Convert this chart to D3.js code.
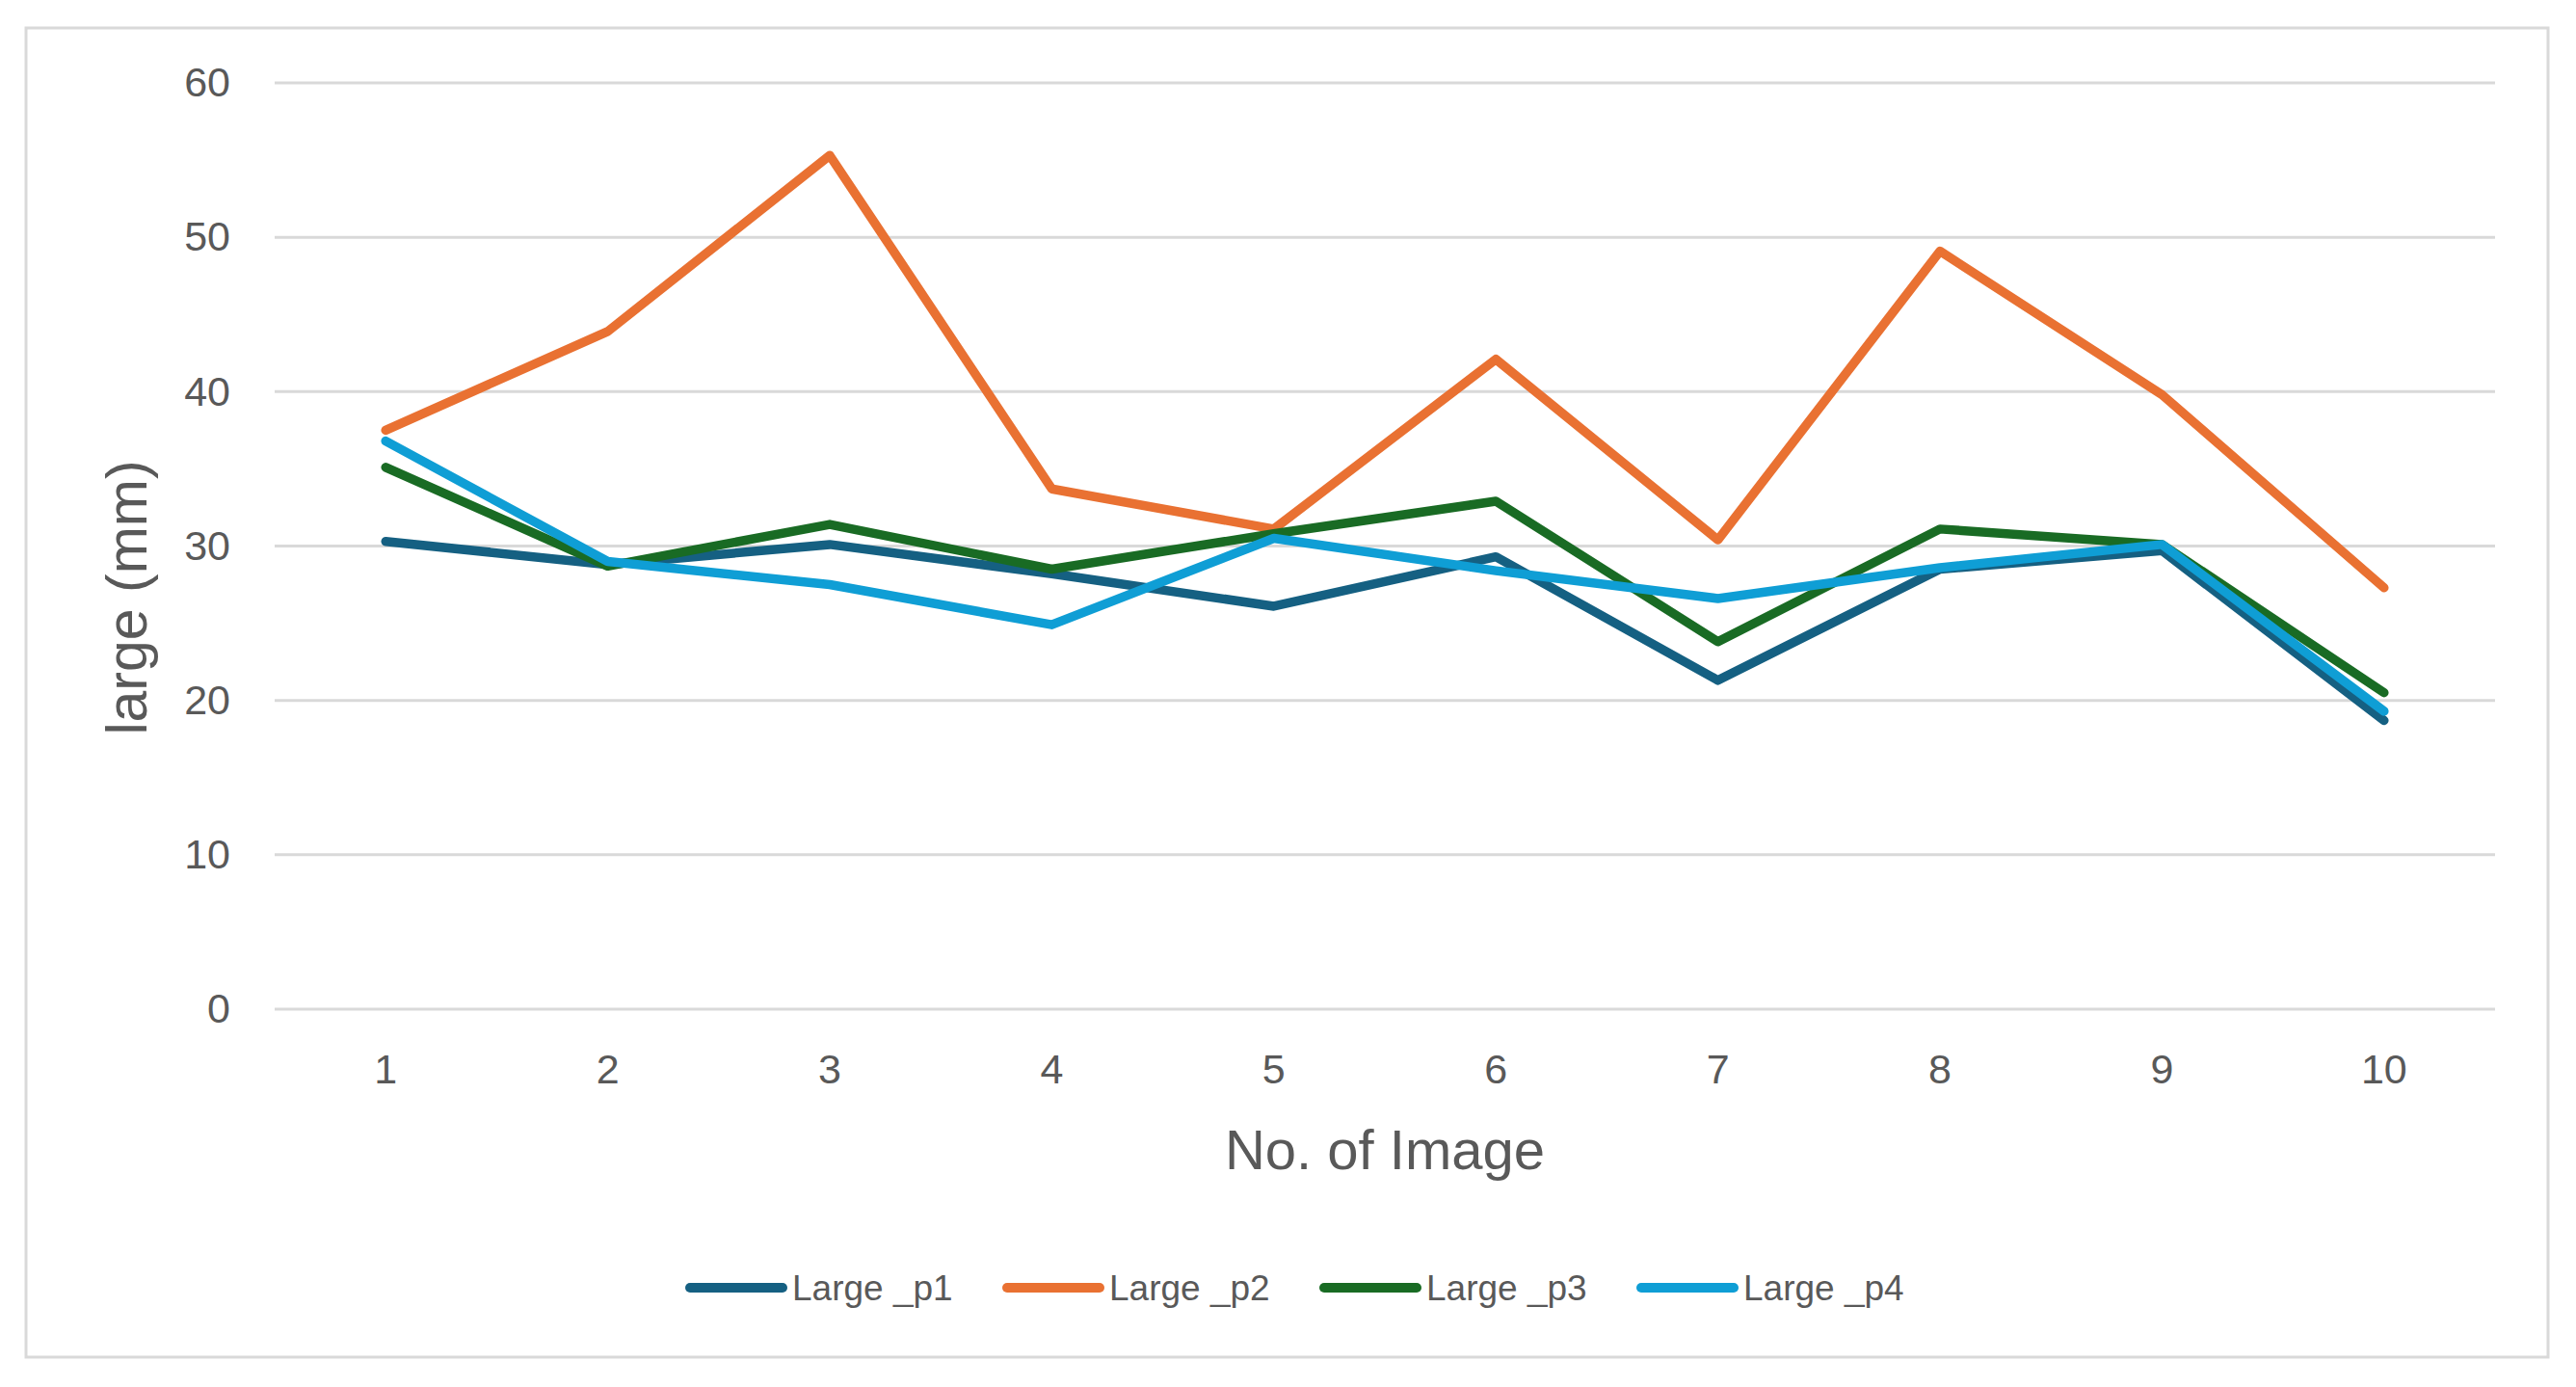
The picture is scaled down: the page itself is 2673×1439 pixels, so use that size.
<!DOCTYPE html>
<html><head><meta charset="utf-8">
<script src="https://cdn.jsdelivr.net/npm/d3@7/dist/d3.min.js"></script>
<style>body{margin:0;background:#fff;}svg{display:block;}</style>
</head><body>
<svg id="chart" width="2673" height="1439"></svg>
<script>
const categories = ["1","2","3","4","5","6","7","8","9","10"];
const seriesNames = ["Large _p1","Large _p2","Large _p3","Large _p4"];
const p1 = [30.3, 28.8, 30.1, 28.2, 26.1, 29.3, 21.3, 28.5, 29.7, 18.7];
const p2 = [37.5, 43.9, 55.3, 33.7, 31.1, 42.1, 30.4, 49.1, 39.8, 27.3];
const p3 = [35.1, 28.7, 31.4, 28.5, 30.8, 32.9, 23.8, 31.1, 30.1, 20.5];
const p4 = [36.8, 29.0, 27.5, 24.9, 30.5, 28.4, 26.6, 28.6, 30.1, 19.3];
const yTicks = [0,10,20,30,40,50,60];
const colors = ["#156082","#E97132","#196B24","#0F9ED5"];
const seriesValues = [p1,p2,p3,p4];

(function(){
const svg = d3.select("#chart");
const font = "'Liberation Sans', Arial, sans-serif";
const textColor = "#595959";

svg.append("rect").attr("x",27).attr("y",29).attr("width",2617).attr("height",1379)
  .attr("fill","#fff").attr("stroke","#d9d9d9").attr("stroke-width",3);

const pl = 285, pr = 2589, pt = 86, pb = 1047;
const x = d3.scaleBand().domain(categories).range([pl,pr]);
const y = d3.scaleLinear().domain([0,60]).range([pb,pt]);

svg.append("g").selectAll("line").data(yTicks).join("line")
  .attr("x1",pl).attr("x2",pr)
  .attr("y1",d=>y(d)).attr("y2",d=>y(d))
  .attr("stroke","#d9d9d9").attr("stroke-width",3);

const yAxis = svg.append("g").attr("transform",`translate(${pl},0)`)
  .call(d3.axisLeft(y).tickValues(yTicks).tickSize(0).tickPadding(46));
yAxis.select(".domain").remove();
yAxis.selectAll("text").attr("font-family",font).attr("font-size",43).attr("fill",textColor);

const xAxis = svg.append("g").attr("transform",`translate(0,${pb})`)
  .call(d3.axisBottom(x).tickSize(0).tickPadding(46));
xAxis.select(".domain").remove();
xAxis.selectAll("text").attr("font-family",font).attr("font-size",43).attr("fill",textColor);

svg.append("text").attr("x",(pl+pr)/2).attr("y",1213).attr("text-anchor","middle")
  .attr("font-family",font).attr("font-size",58).attr("fill",textColor).text("No. of Image");
svg.append("text").attr("transform","translate(152,620) rotate(-90)").attr("text-anchor","middle")
  .attr("font-family",font).attr("font-size",59).attr("fill",textColor).text("large (mm)");

const line = d3.line().x((d,i)=>x(categories[i])+x.bandwidth()/2).y(d=>y(d));
svg.append("g").selectAll("path").data(seriesValues).join("path")
  .attr("d",d=>line(d)).attr("fill","none")
  .attr("stroke",(d,i)=>colors[i]).attr("stroke-width",9.5)
  .attr("stroke-linejoin","round").attr("stroke-linecap","round");

const legendX = [716, 1045, 1374, 1703];
const lg = svg.append("g").selectAll("g").data(seriesNames).join("g")
  .attr("transform",(d,i)=>`translate(${legendX[i]},1336)`);
lg.append("line").attr("x1",0).attr("x2",96).attr("y1",0).attr("y2",0)
  .attr("stroke",(d,i)=>colors[i]).attr("stroke-width",10).attr("stroke-linecap","round");
lg.append("text").attr("x",106).attr("y",13).attr("font-family",font).attr("font-size",37)
  .attr("fill",textColor).text(d=>d);
})();
</script>
</body></html>
